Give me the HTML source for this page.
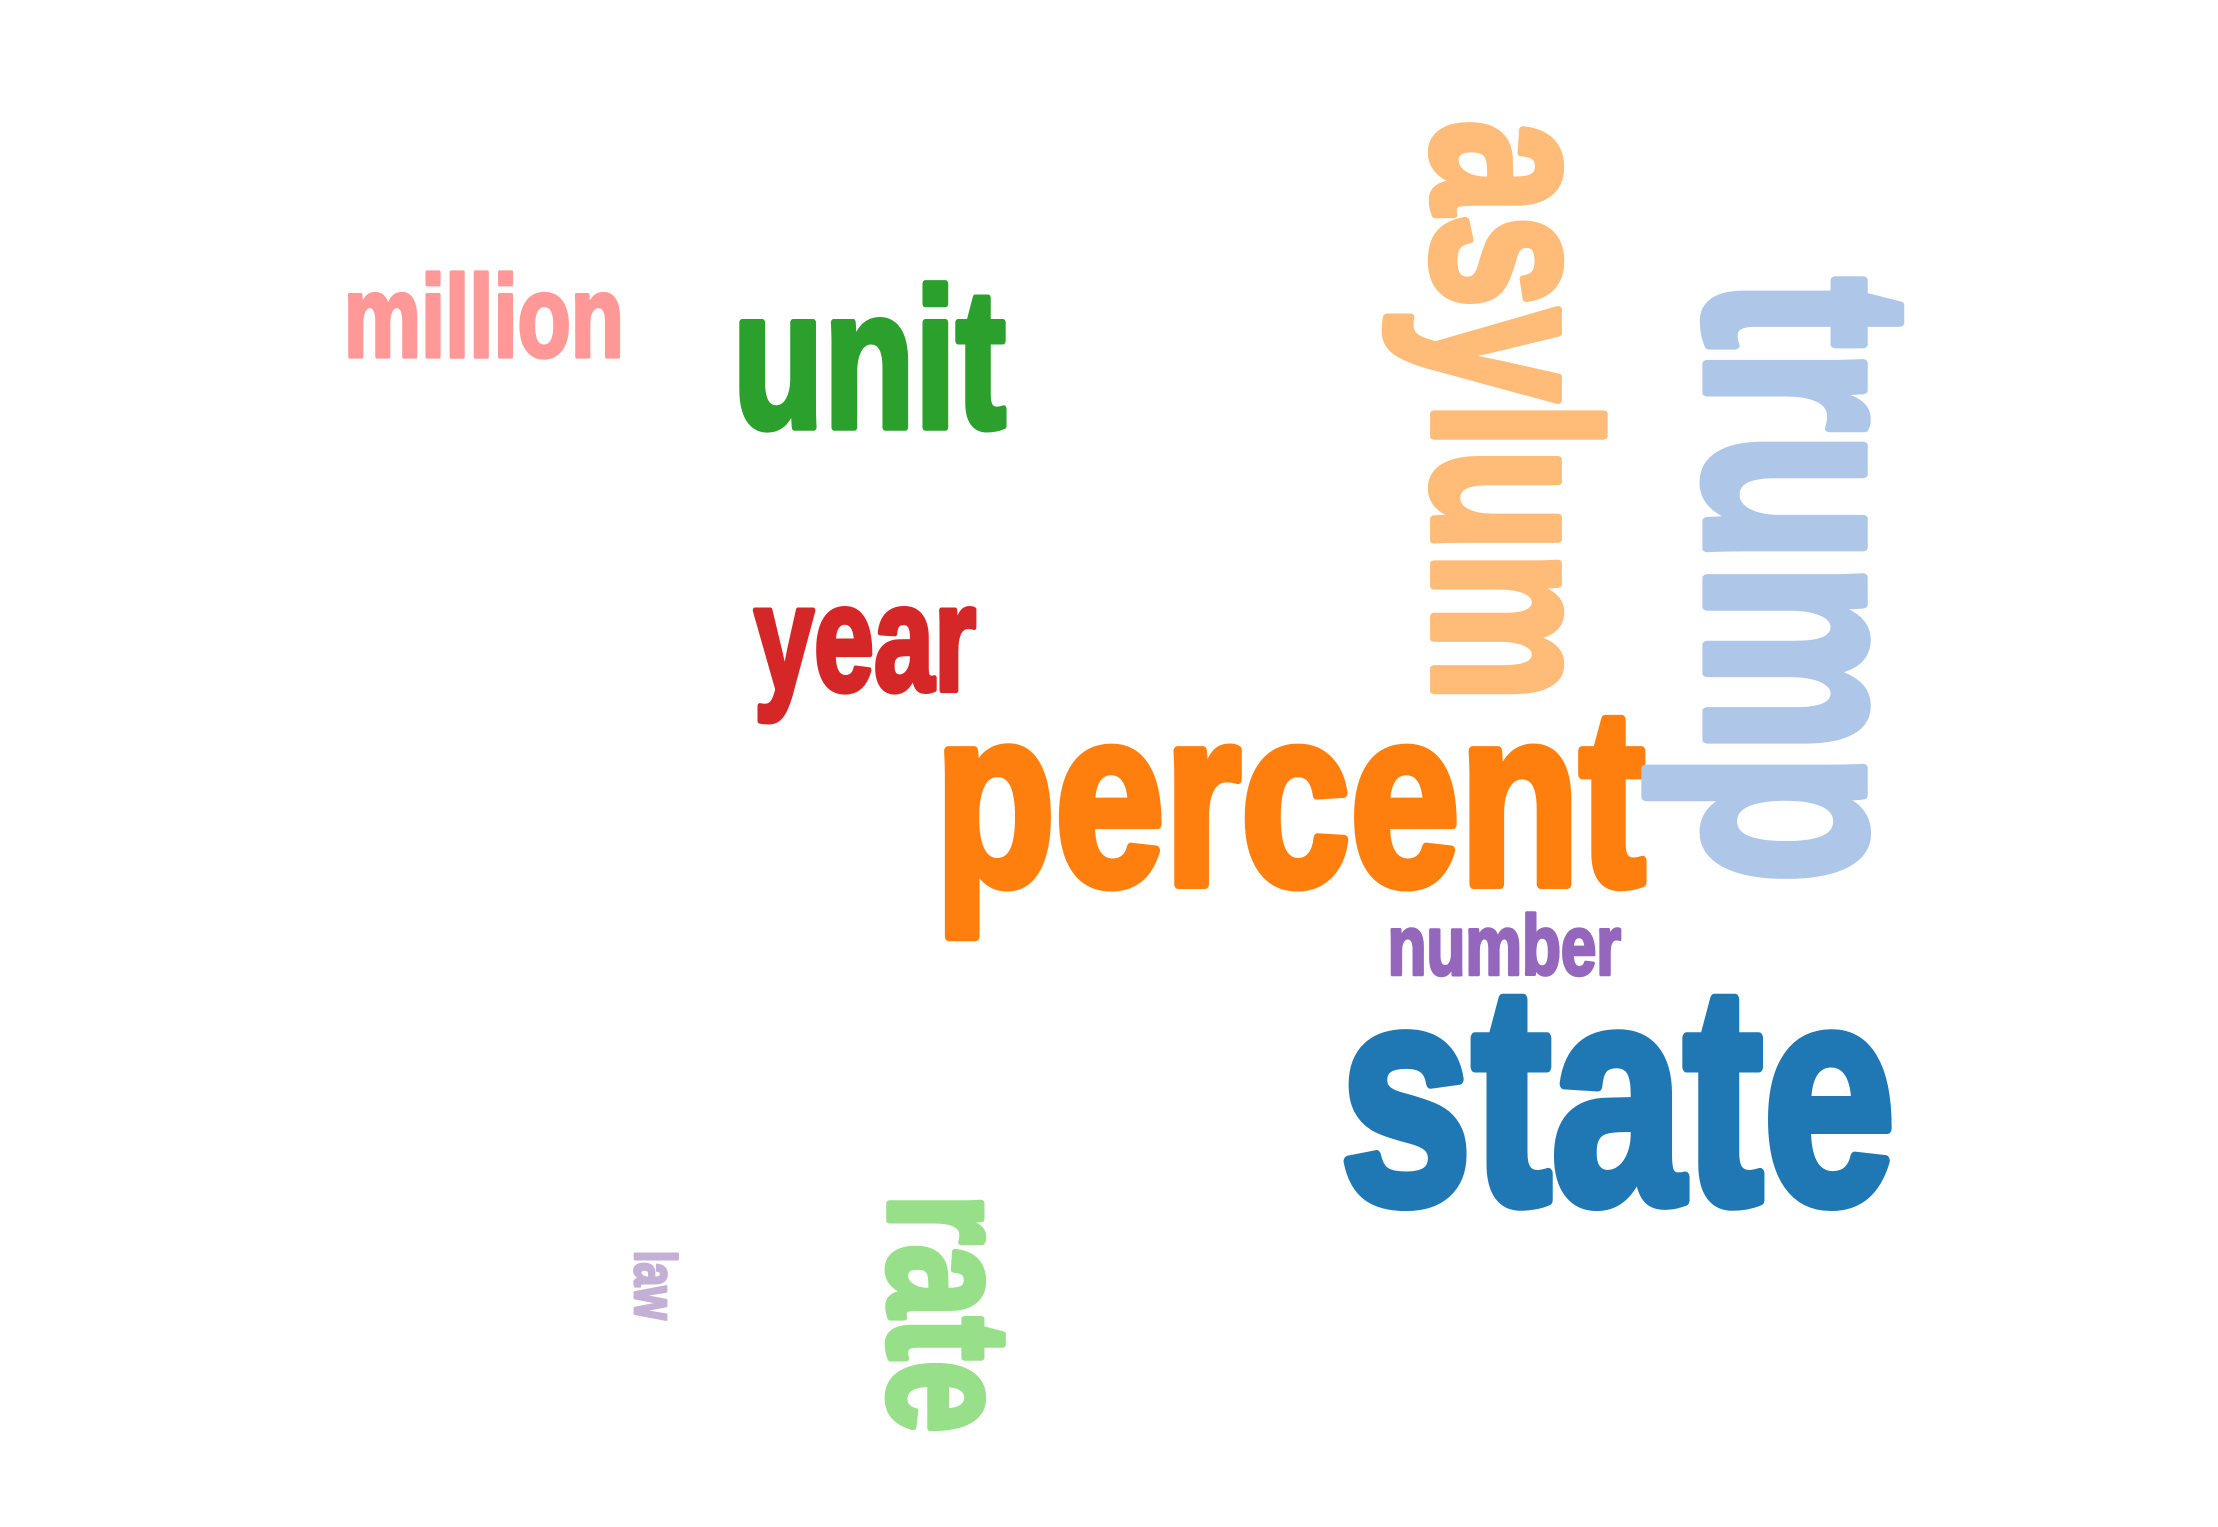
<!DOCTYPE html>
<html>
<head>
<meta charset="utf-8">
<style>
html,body{margin:0;padding:0;background:#fff;}
svg{display:block;}
text{font-family:"Liberation Sans Narrow","Liberation Sans",sans-serif;font-weight:bold;stroke-linejoin:round;}
</style>
</head>
<body>
<svg width="2218" height="1527" viewBox="0 0 1568 1079.5" preserveAspectRatio="none">
<rect width="1568" height="1080" fill="#fff"/>
<text x="243" y="252" font-size="82" fill="#ff9896" stroke="#ff9896" stroke-width="3" textLength="198" lengthAdjust="spacingAndGlyphs">million</text>
<text x="518" y="302" font-size="140" fill="#2ca02c" stroke="#2ca02c" stroke-width="5" textLength="193" lengthAdjust="spacingAndGlyphs">unit</text>
<text x="533" y="488" font-size="107" fill="#d62728" stroke="#d62728" stroke-width="4" textLength="157" lengthAdjust="spacingAndGlyphs">year</text>
<text x="661" y="625" font-size="178" fill="#ff7f0e" stroke="#ff7f0e" stroke-width="7" textLength="502" lengthAdjust="spacingAndGlyphs">percent</text>
<text x="981" y="689" font-size="60" fill="#9467bd" stroke="#9467bd" stroke-width="2.5" textLength="165" lengthAdjust="spacingAndGlyphs">number</text>
<text x="947" y="850" font-size="220" fill="#1f77b4" stroke="#1f77b4" stroke-width="8" textLength="393" lengthAdjust="spacingAndGlyphs">state</text>
<text transform="translate(1014,85) rotate(90)" x="0" y="0" font-size="165" fill="#ffbb78" stroke="#ffbb78" stroke-width="6" textLength="411" lengthAdjust="spacingAndGlyphs">asylum</text>
<text transform="translate(1207,196) rotate(90)" x="0" y="0" font-size="208" fill="#aec7e8" stroke="#aec7e8" stroke-width="7" textLength="429" lengthAdjust="spacingAndGlyphs">trump</text>
<text transform="translate(629,844) rotate(90)" x="0" y="0" font-size="122" fill="#98df8a" stroke="#98df8a" stroke-width="5" textLength="169" lengthAdjust="spacingAndGlyphs">rate</text>
<text transform="translate(449,884) rotate(90)" x="0" y="0" font-size="41" fill="#c5b0d5" stroke="#c5b0d5" stroke-width="2" textLength="49" lengthAdjust="spacingAndGlyphs">law</text>
</svg>
</body>
</html>
